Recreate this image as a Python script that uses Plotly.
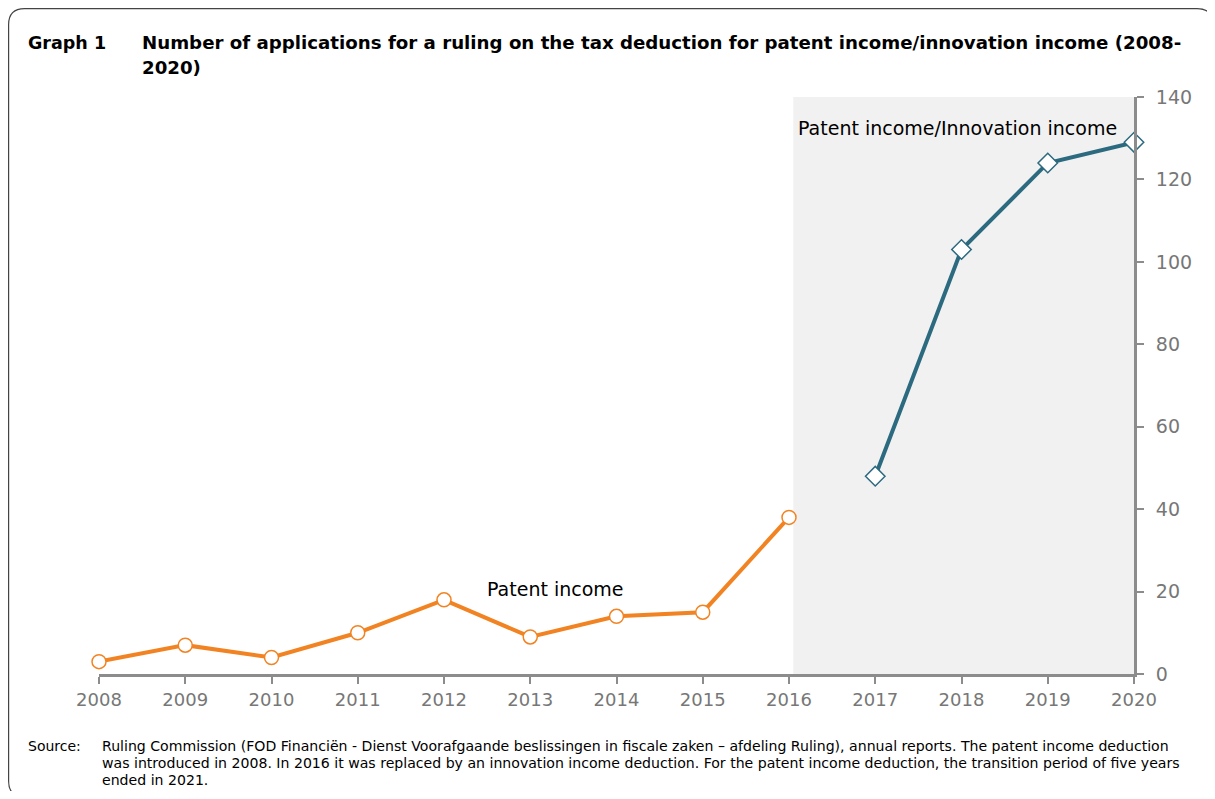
import plotly.graph_objects as go

years_patent = [2008, 2009, 2010, 2011, 2012, 2013, 2014, 2015, 2016]
patent_values = [3, 7, 4, 10, 18, 9, 14, 15, 38]
years_innov = [2017, 2018, 2019, 2020]
innov_values = [48, 103, 124, 129]
x_ticks = list(range(2008, 2021))
y_ticks = [0, 20, 40, 60, 80, 100, 120, 140]

ORANGE = "#F28322"
BLUE = "#2C6A80"
GREY = "#8C8C8C"
FONT = "DejaVu Sans"

OFF = 8  # page body margin
W, H = 1207, 783
# plot area in screenshot pixels
SL, SR, ST, SB = 99, 1134, 97, 674
L, R, T, B = SL - OFF, SR - OFF, ST - OFF, SB - OFF

def px(x):
    return (x - OFF - L) / (R - L)

def py(y):
    return (B - (y - OFF)) / (B - T)

fig = go.Figure()

fig.add_trace(go.Scatter(
    x=years_patent, y=patent_values, mode="lines+markers",
    line=dict(color=ORANGE, width=4),
    marker=dict(symbol="circle", size=14, color="white", line=dict(color=ORANGE, width=1.5)),
    cliponaxis=False, showlegend=False))

fig.add_trace(go.Scatter(
    x=years_innov, y=innov_values, mode="lines+markers",
    line=dict(color=BLUE, width=4),
    marker=dict(symbol="diamond", size=15, color="white", line=dict(color=BLUE, width=1.5)),
    cliponaxis=False, showlegend=False))

# shaded period
fig.add_shape(type="rect", xref="x", yref="y", x0=2016.05, x1=2020, y0=0, y1=140,
              fillcolor="#F1F1F1", line=dict(width=0), layer="below")

# rounded outer frame (screenshot px)
x0, x1, y0, y1, r = 8.6, 1213, 8.6, 797, 16
path = (f"M {px(x0)} {py(y0 + r)} "
        f"Q {px(x0)} {py(y0)} {px(x0 + r)} {py(y0)} "
        f"L {px(x1 - r)} {py(y0)} "
        f"Q {px(x1)} {py(y0)} {px(x1)} {py(y0 + r)} "
        f"L {px(x1)} {py(y1 - r)} "
        f"Q {px(x1)} {py(y1)} {px(x1 - r)} {py(y1)} "
        f"L {px(x0 + r)} {py(y1)} "
        f"Q {px(x0)} {py(y1)} {px(x0)} {py(y1 - r)} Z")
fig.add_shape(type="path", xref="paper", yref="paper", path=path,
              line=dict(color="#444444", width=1.2), fillcolor="rgba(0,0,0,0)")

ann = []
ann.append(dict(text="<b>Graph 1</b>", x=px(26), y=py(43), xanchor="left", yanchor="middle",
                font=dict(family=FONT, size=17.5, color="black")))
ann.append(dict(text="<b>Number of applications for a ruling on the tax deduction for patent income/innovation income (2008-</b>",
                x=px(140), y=py(43), xanchor="left", yanchor="middle",
                font=dict(family=FONT, size=18.2, color="black")))
ann.append(dict(text="<b>2020)</b>",
                x=px(140), y=py(67), xanchor="left", yanchor="middle",
                font=dict(family=FONT, size=18.2, color="black")))
ann.append(dict(text="Patent income", x=2013.29, y=20.6, xref="x", yref="y",
                xanchor="center", yanchor="middle",
                font=dict(family=FONT, size=19, color="black")))
ann.append(dict(text="Patent income/Innovation income", x=2016.08, y=132.5, xref="x", yref="y",
                xanchor="left", yanchor="middle",
                font=dict(family=FONT, size=19, color="black")))
ann.append(dict(text="Source:", x=px(26), y=py(746), xanchor="left", yanchor="middle",
                font=dict(family=FONT, size=14, color="black")))
foot_lines = [
    "Ruling Commission (FOD Financiën - Dienst Voorafgaande beslissingen in fiscale zaken – afdeling Ruling), annual reports. The patent income deduction",
    "was introduced in 2008. In 2016 it was replaced by an innovation income deduction. For the patent income deduction, the transition period of five years",
    "ended in 2021.",
]
for i, line in enumerate(foot_lines):
    ann.append(dict(text=line, x=px(100), y=py(746 + 17 * i), xanchor="left", yanchor="middle",
                    font=dict(family=FONT, size=14.1, color="black")))
for a in ann:
    a.setdefault("xref", "paper")
    a.setdefault("yref", "paper")
    a["showarrow"] = False

fig.update_layout(
    width=W, height=H,
    margin=dict(l=L, r=W - R, t=T, b=H - B, pad=0),
    paper_bgcolor="white", plot_bgcolor="white",
    annotations=ann,
    xaxis=dict(range=[2008, 2020], tickvals=x_ticks, ticktext=[str(v) for v in x_ticks],
               showgrid=False, zeroline=False, showline=True, linecolor=GREY, linewidth=3,
               ticks="outside", ticklen=7, tickwidth=2, tickcolor=GREY,
               tickfont=dict(family=FONT, size=18, color="#777777")),
    yaxis=dict(range=[0, 140], tickvals=y_ticks, side="right",
               showgrid=False, zeroline=False, showline=True, linecolor=GREY, linewidth=3,
               ticks="outside", ticklen=7, tickwidth=2, tickcolor=GREY, ticklabelstandoff=8,
               tickfont=dict(family=FONT, size=19, color="#777777")),
)

fig.write_html("out.html")
